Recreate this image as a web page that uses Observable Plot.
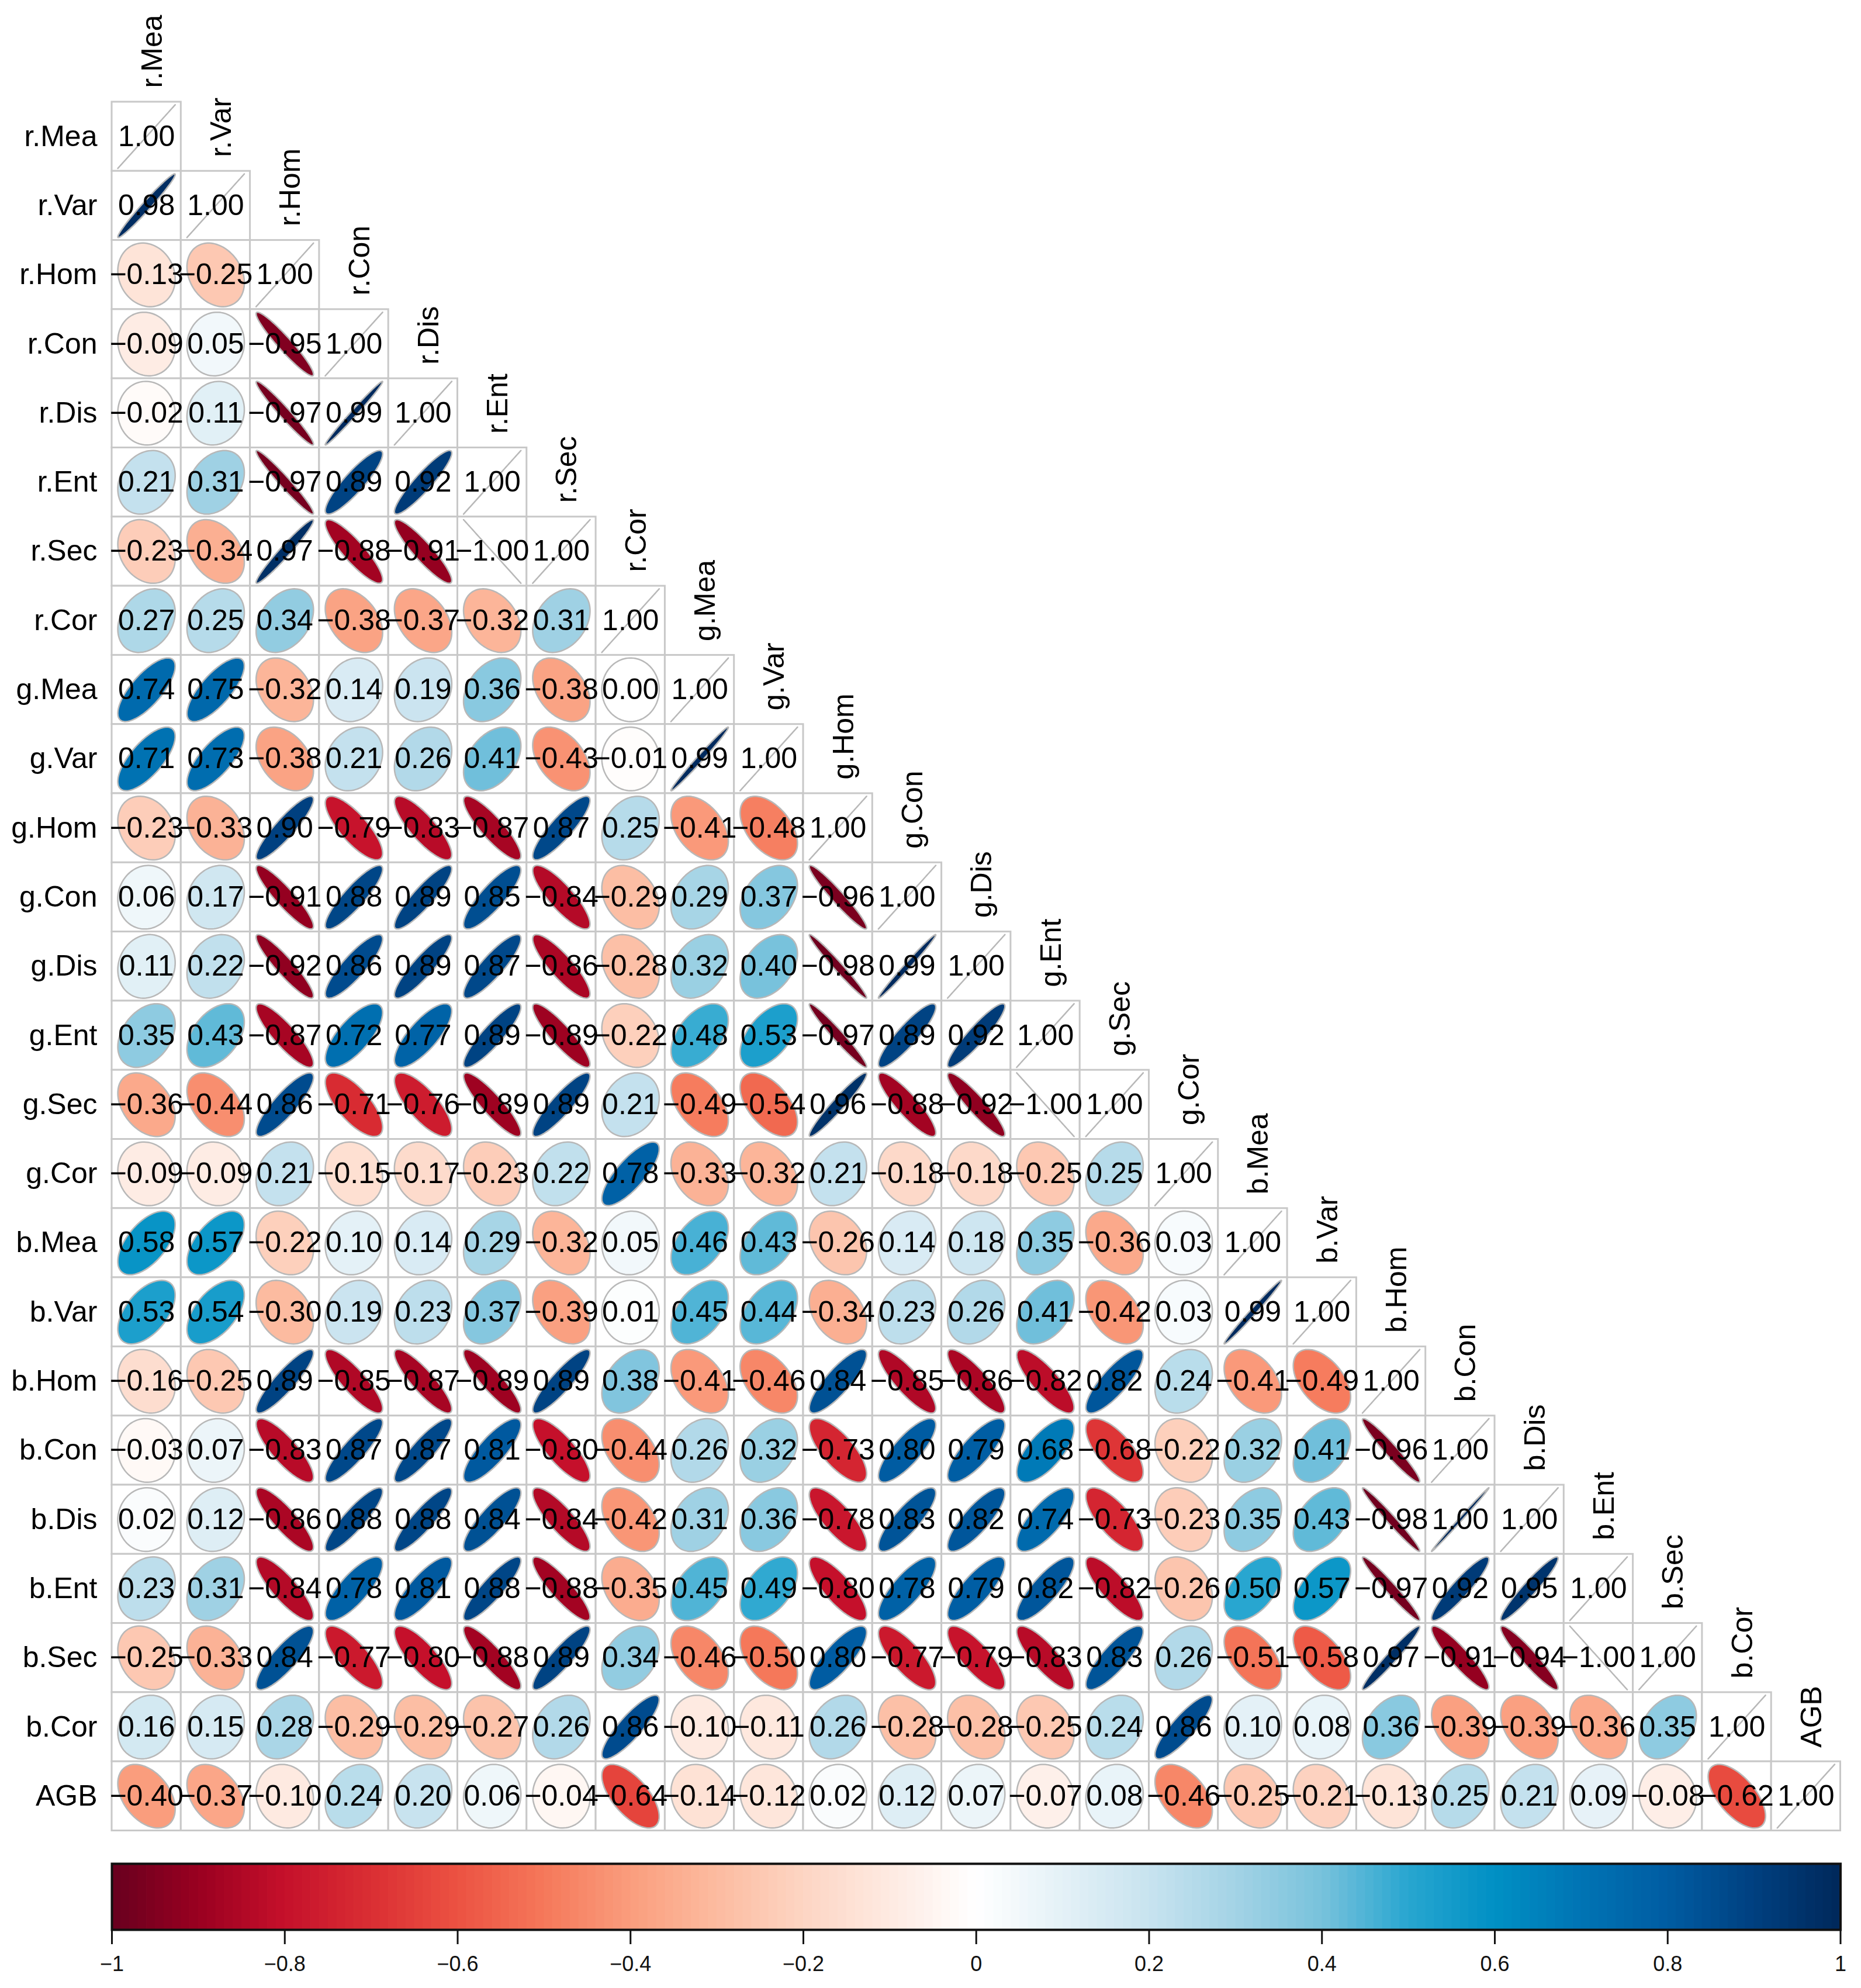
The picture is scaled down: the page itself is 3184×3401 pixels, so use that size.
<!DOCTYPE html>
<html>
<head>
<meta charset="utf-8">
<script src="https://cdn.jsdelivr.net/npm/d3@7"></script>
<script src="https://cdn.jsdelivr.net/npm/@observablehq/plot@0.6"></script>
<style>
  html, body { margin: 0; padding: 0; background: #fff; }
  #chart svg { display: block; }
</style>
</head>
<body>
<div id="chart"></div>
<script>
// ---------- data ----------
const variables = ["r.Mea","r.Var","r.Hom","r.Con","r.Dis","r.Ent","r.Sec","r.Cor",
  "g.Mea","g.Var","g.Hom","g.Con","g.Dis","g.Ent","g.Sec","g.Cor",
  "b.Mea","b.Var","b.Hom","b.Con","b.Dis","b.Ent","b.Sec","b.Cor","AGB"];

// lower triangle, row by row (row i has i+1 values)
const corrRows = [
  [1.00],
  [0.98, 1.00],
  [-0.13, -0.25, 1.00],
  [-0.09, 0.05, -0.95, 1.00],
  [-0.02, 0.11, -0.97, 0.99, 1.00],
  [0.21, 0.31, -0.97, 0.89, 0.92, 1.00],
  [-0.23, -0.34, 0.97, -0.88, -0.91, -1.00, 1.00],
  [0.27, 0.25, 0.34, -0.38, -0.37, -0.32, 0.31, 1.00],
  [0.74, 0.75, -0.32, 0.14, 0.19, 0.36, -0.38, 0.00, 1.00],
  [0.71, 0.73, -0.38, 0.21, 0.26, 0.41, -0.43, -0.01, 0.99, 1.00],
  [-0.23, -0.33, 0.90, -0.79, -0.83, -0.87, 0.87, 0.25, -0.41, -0.48, 1.00],
  [0.06, 0.17, -0.91, 0.88, 0.89, 0.85, -0.84, -0.29, 0.29, 0.37, -0.96, 1.00],
  [0.11, 0.22, -0.92, 0.86, 0.89, 0.87, -0.86, -0.28, 0.32, 0.40, -0.98, 0.99, 1.00],
  [0.35, 0.43, -0.87, 0.72, 0.77, 0.89, -0.89, -0.22, 0.48, 0.53, -0.97, 0.89, 0.92, 1.00],
  [-0.36, -0.44, 0.86, -0.71, -0.76, -0.89, 0.89, 0.21, -0.49, -0.54, 0.96, -0.88, -0.92, -1.00, 1.00],
  [-0.09, -0.09, 0.21, -0.15, -0.17, -0.23, 0.22, 0.78, -0.33, -0.32, 0.21, -0.18, -0.18, -0.25, 0.25, 1.00],
  [0.58, 0.57, -0.22, 0.10, 0.14, 0.29, -0.32, 0.05, 0.46, 0.43, -0.26, 0.14, 0.18, 0.35, -0.36, 0.03, 1.00],
  [0.53, 0.54, -0.30, 0.19, 0.23, 0.37, -0.39, 0.01, 0.45, 0.44, -0.34, 0.23, 0.26, 0.41, -0.42, 0.03, 0.99, 1.00],
  [-0.16, -0.25, 0.89, -0.85, -0.87, -0.89, 0.89, 0.38, -0.41, -0.46, 0.84, -0.85, -0.86, -0.82, 0.82, 0.24, -0.41, -0.49, 1.00],
  [-0.03, 0.07, -0.83, 0.87, 0.87, 0.81, -0.80, -0.44, 0.26, 0.32, -0.73, 0.80, 0.79, 0.68, -0.68, -0.22, 0.32, 0.41, -0.96, 1.00],
  [0.02, 0.12, -0.86, 0.88, 0.88, 0.84, -0.84, -0.42, 0.31, 0.36, -0.78, 0.83, 0.82, 0.74, -0.73, -0.23, 0.35, 0.43, -0.98, 0.997, 1.00],
  [0.23, 0.31, -0.84, 0.78, 0.81, 0.88, -0.88, -0.35, 0.45, 0.49, -0.80, 0.78, 0.79, 0.82, -0.82, -0.26, 0.50, 0.57, -0.97, 0.92, 0.95, 1.00],
  [-0.25, -0.33, 0.84, -0.77, -0.80, -0.88, 0.89, 0.34, -0.46, -0.50, 0.80, -0.77, -0.79, -0.83, 0.83, 0.26, -0.51, -0.58, 0.97, -0.91, -0.94, -1.00, 1.00],
  [0.16, 0.15, 0.28, -0.29, -0.29, -0.27, 0.26, 0.86, -0.10, -0.11, 0.26, -0.28, -0.28, -0.25, 0.24, 0.86, 0.10, 0.08, 0.36, -0.39, -0.39, -0.36, 0.35, 1.00],
  [-0.40, -0.37, -0.10, 0.24, 0.20, 0.06, -0.04, -0.64, -0.14, -0.12, 0.02, 0.12, 0.07, -0.07, 0.08, -0.46, -0.25, -0.21, -0.13, 0.25, 0.21, 0.09, -0.08, -0.62, 1.00]
];

const colorStops = [-1, -0.9, -0.8, -0.7, -0.6, -0.5, -0.4, -0.3, -0.2, -0.1, 0,
                    0.1, 0.2, 0.3, 0.4, 0.5, 0.6, 0.7, 0.8, 0.9, 1];
const colorRange = ["#67001f", "#9a0020", "#c5102b", "#da2e33", "#ec5242", "#f5785a",
                    "#fa9d7d", "#fcbba0", "#fdd5c3", "#feeae1", "#ffffff",
                    "#e4f1f7", "#c8e3ef", "#a3d3e5", "#78c2dc", "#28a6d0",
                    "#0090c4", "#0074b4", "#005ca2", "#004080", "#00285a"];
const barTicks = [-1, -0.8, -0.6, -0.4, -0.2, 0, 0.2, 0.4, 0.6, 0.8, 1];

// ---------- derived tables ----------
const n = variables.length;
const cells = [];
corrRows.forEach((row, i) => row.forEach((r, j) => cells.push({i, j, r, id: i + "-" + j})));

// corrplot-style ellipse outlines (geometry derived from each correlation)
const ellSx = 0.83, ellSy = 0.92;
const ellPts = [];
const K = 100;
for (const c of cells) {
  const a = Math.acos(Math.max(-1, Math.min(1, c.r)));
  for (let k = 0; k < K; k++) {
    const t = (2 * Math.PI * k) / K;
    const dx = ellSx * Math.cos(t + a / 2) / 2;
    const dy = ellSy * Math.cos(t - a / 2) / 2;
    ellPts.push({id: c.id, r: c.r, x: c.j + 0.5 + dx, y: c.i + 0.5 - dy});
  }
}

const fmt = r => (r < 0 ? "\u2212" : "") + Math.abs(r).toFixed(2);
const fmtTick = v => (v < 0 ? "\u2212" : "") + String(Math.abs(+v.toFixed(1)));

const colorScale = {type: "linear", domain: colorStops, range: colorRange, interpolate: "rgb"};
const font = "'Liberation Sans', Arial, Helvetica, sans-serif";

const W = 3184;
const x0 = 191, cell = 118.3, y0 = 174;
const H1 = 3160;

const main = Plot.plot({
  width: W,
  height: H1,
  marginLeft: x0,
  marginRight: W - x0 - n * cell,
  marginTop: y0,
  marginBottom: H1 - y0 - n * cell,
  x: {type: "linear", domain: [0, n], axis: null},
  y: {type: "linear", domain: [0, n], reverse: true, axis: null},
  color: colorScale,
  style: {fontFamily: font, background: "#fff"},
  marks: [
    Plot.rect(cells, {x1: d => d.j, x2: d => d.j + 1, y1: d => d.i, y2: d => d.i + 1,
                      fill: "white", stroke: "#c8c8c8", strokeWidth: 3}),
    Plot.line(ellPts, {x: "x", y: "y", z: "id", fill: d => d.r, curve: "linear-closed",
                       stroke: "#b8b8b8", strokeWidth: 2.5}),
    Plot.text(cells, {x: d => d.j + 0.5, y: d => d.i + 0.5, text: d => fmt(d.r),
                      fontSize: 50, fill: "black"}),
    Plot.text(variables, {x: () => 0, y: (d, i) => i + 0.5, text: d => d,
                          textAnchor: "end", dx: -25, fontSize: 50, fill: "black"}),
    Plot.text(variables, {x: (d, i) => i + 0.5, y: (d, i) => i, text: d => d,
                          rotate: -90, textAnchor: "start", dx: 10, dy: -24,
                          fontSize: 50, fill: "black"})
  ]
});

// ---------- colour bar ----------
const barSteps = [];
for (let k = 0; k < 200; k++) {
  const v1 = -1 + k * 0.01;
  barSteps.push({v1, v2: v1 + 0.0105, mid: v1 + 0.005});
}
const H2 = 3401 - H1;
const bar = Plot.plot({
  width: W,
  height: H2,
  marginLeft: x0,
  marginRight: W - x0 - n * cell,
  marginTop: 28,
  marginBottom: H2 - 28 - 113,
  x: {domain: [-1, 1]},
  color: colorScale,
  style: {fontFamily: font, background: "#fff"},
  marks: [
    Plot.rect(barSteps, {x1: "v1", x2: "v2", fill: d => d.mid}),
    Plot.frame({stroke: "#111", strokeWidth: 4}),
    Plot.axisX(barTicks, {tickSize: 25, tickPadding: 20, fontSize: 36, tickFormat: fmtTick,
                          strokeWidth: 3, label: null, stroke: "#111", fill: "#111"})
  ]
});

const chart = document.getElementById("chart");
chart.appendChild(main);
chart.appendChild(bar);
</script>
</body>
</html>
